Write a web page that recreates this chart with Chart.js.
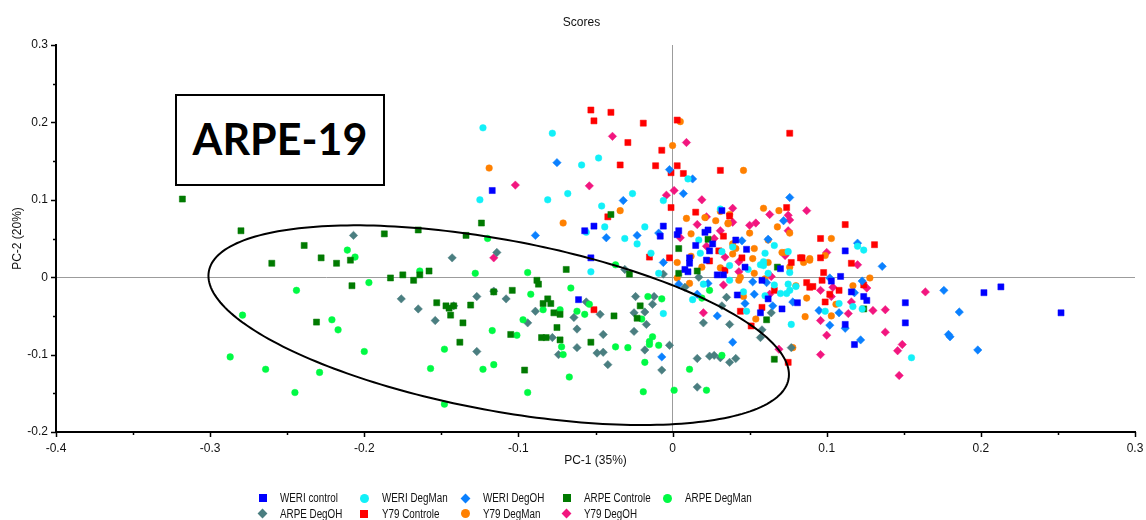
<!DOCTYPE html>
<html>
<head>
<meta charset="utf-8">
<script src="https://cdn.jsdelivr.net/npm/chart.js@4.4.1/dist/chart.umd.min.js"></script>
<style>
html,body{margin:0;padding:0;background:#fff;}
#wrap{position:relative;width:1146px;height:520px;overflow:hidden;background:#fff;}
#chart{position:absolute;left:0;top:0;}
#title{position:absolute;left:481.5px;top:14px;width:200px;text-align:center;font-family:"Liberation Sans",Arial,sans-serif;font-size:12px;line-height:16px;color:#111;}
#tag{position:absolute;left:175px;top:94px;width:210px;height:92px;box-sizing:border-box;border:2px solid #000;background:#fff;
  font-family:Lato,"Open Sans",sans-serif;font-weight:700;font-size:43px;color:#000;display:flex;align-items:center;justify-content:center;padding-bottom:3px;}
#legend{position:absolute;left:0;top:0;width:1146px;height:520px;pointer-events:none;font-family:"Liberation Sans",Arial,sans-serif;font-size:12px;color:#111;}
.mk{position:absolute;box-sizing:border-box;}
.tx{position:absolute;white-space:nowrap;transform:scaleX(0.82);transform-origin:left center;line-height:16px;height:16px;}
</style>
</head>
<body>
<div id="wrap">
  <canvas id="chart" width="1146" height="520"></canvas>
  <div id="title">Scores</div>
  <div id="tag">ARPE-19</div>
  <div id="legend"></div>
</div>
<script>
// ---------- DATA (PC-1, PC-2 scores) ----------
const xTickLabels = ['-0.4','-0.3','-0.2','-0.1','0','0.1','0.2','0.3'];
const yTickLabels = ['-0.2','-0.1','0','0.1','0.2','0.3'];

const weriControl = [[0.252,-0.046],[0.213,-0.0125],[0.202,-0.020],[0.151,-0.033],[0.151,-0.059],[-0.117,0.112],[-0.057,0.060],[-0.051,0.066],[-0.053,0.025],[-0.006,0.066],[-0.008,0.053],[0.003,0.055],[-0.061,-0.029],[0.004,0.060],[0.021,0.058],[0.023,0.061],[0.032,0.086],[0.015,0.041],[0.026,0.043],[0.041,0.048],[0.048,0.036],[0.112,0.034],[0.024,0.034],[0.011,0.025],[0.011,0.018],[0.022,0.022],[0.008,0.010],[0.010,0.007],[0.029,0.003],[0.033,0.003],[0.042,-0.023],[0.047,0.013],[0.058,-0.004],[0.070,0.011],[0.062,-0.028],[0.057,-0.046],[0.071,-0.041],[0.081,-0.033],[0.103,-0.005],[0.109,0.001],[0.116,-0.019],[0.124,-0.025],[0.126,-0.030],[0.112,-0.061],[0.118,-0.087]];

const weriDegMan = [[-0.123,0.193],[-0.078,0.186],[-0.059,0.145],[-0.048,0.154],[-0.125,0.100],[-0.081,0.100],[-0.068,0.108],[-0.046,0.092],[-0.026,0.108],[-0.006,0.099],[-0.044,0.065],[-0.056,0.058],[-0.031,0.050],[-0.023,0.043],[-0.018,0.065],[-0.014,0.031],[-0.053,0.007],[-0.009,0.005],[0.010,0.127],[0.031,0.088],[0.017,0.048],[0.066,0.041],[0.120,0.040],[0.124,0.035],[0.018,0.031],[0.039,0.039],[0.060,0.031],[0.075,0.033],[0.057,0.016],[0.049,0.010],[0.037,-0.004],[0.020,-0.009],[0.060,-0.024],[0.046,-0.019],[0.075,-0.009],[0.074,-0.021],[0.066,-0.010],[0.032,0.033],[0.037,0.015],[0.059,0.020],[0.059,0.015],[0.062,0.005],[0.076,0.006],[0.076,-0.017],[0.070,-0.021],[0.048,-0.044],[0.077,-0.061],[0.013,-0.029],[-0.006,-0.047],[0.117,-0.038],[0.108,-0.034],[0.099,-0.044],[0.123,-0.041],[0.080,-0.012],[0.155,-0.104]];

const weriDegOH = [[-0.075,0.148],[-0.032,0.099],[-0.089,0.054],[-0.043,0.051],[-0.023,0.054],[-0.009,0.057],[-0.006,0.019],[-0.002,0.139],[0.004,-0.009],[0.013,0.127],[0.007,0.108],[0.076,0.103],[0.072,0.073],[0.045,0.047],[0.062,0.049],[0.120,0.044],[0.023,-0.008],[0.052,-0.006],[0.061,-0.007],[0.016,-0.022],[0.053,-0.022],[0.047,-0.034],[0.065,-0.037],[0.029,-0.050],[0.039,-0.084],[0.078,-0.032],[0.095,-0.043],[0.102,-0.001],[0.108,-0.046],[0.102,-0.062],[0.112,-0.066],[0.118,-0.020],[0.123,-0.005],[0.136,0.014],[0.122,-0.081],[-0.007,-0.103],[0.176,-0.017],[0.186,-0.045],[0.179,-0.074],[0.180,-0.077],[0.198,-0.094]];

const arpeControle = [[-0.318,0.101],[-0.280,0.060],[-0.260,0.018],[-0.239,0.041],[-0.228,0.025],[-0.218,0.018],[-0.209,0.022],[-0.187,0.056],[-0.165,0.061],[-0.208,-0.011],[-0.231,-0.058],[-0.183,-0.001],[-0.175,0.003],[-0.168,-0.004],[-0.164,0.003],[-0.158,0.008],[-0.124,0.070],[-0.134,0.054],[-0.069,0.010],[-0.088,-0.004],[-0.087,-0.009],[-0.104,-0.017],[-0.081,-0.028],[-0.040,0.081],[-0.028,0.004],[0.004,0.037],[0.004,0.005],[-0.153,-0.033],[-0.147,-0.037],[-0.145,-0.040],[-0.142,-0.037],[-0.144,-0.049],[-0.136,-0.059],[-0.131,-0.036],[-0.138,-0.084],[-0.116,-0.019],[-0.084,-0.034],[-0.079,-0.034],[-0.077,-0.046],[-0.073,-0.048],[-0.075,-0.065],[-0.105,-0.074],[-0.085,-0.078],[-0.082,-0.078],[-0.073,-0.081],[-0.053,-0.084],[-0.096,-0.120],[-0.038,-0.050],[-0.021,-0.037],[-0.023,-0.053],[0.061,-0.055],[0.066,-0.106],[0.124,-0.041],[0.023,0.049],[0.016,0.008],[0.068,0.013]];

const arpeDegMan = [[-0.244,-0.017],[-0.279,-0.049],[-0.287,-0.103],[-0.264,-0.119],[-0.245,-0.149],[-0.211,0.035],[-0.206,0.026],[-0.197,-0.007],[-0.164,0.008],[-0.221,-0.055],[-0.217,-0.068],[-0.200,-0.096],[-0.229,-0.123],[-0.157,-0.118],[-0.148,-0.164],[-0.066,-0.014],[-0.092,-0.022],[-0.084,-0.042],[-0.073,-0.042],[-0.062,-0.044],[-0.057,-0.048],[-0.054,-0.035],[-0.097,-0.055],[-0.117,-0.069],[-0.101,-0.075],[-0.148,-0.093],[-0.072,-0.090],[-0.071,-0.100],[-0.123,-0.119],[-0.116,-0.113],[-0.067,-0.129],[-0.094,-0.149],[-0.037,-0.090],[-0.029,-0.091],[-0.016,-0.025],[-0.007,-0.028],[-0.020,-0.054],[-0.013,-0.077],[-0.015,-0.083],[-0.015,-0.087],[-0.009,-0.088],[-0.018,-0.110],[-0.019,-0.148],[0.001,-0.146],[-0.120,0.050],[-0.128,0.005],[-0.094,0.006],[-0.037,0.016],[0.024,-0.017],[0.019,-0.027],[0.032,-0.101],[0.011,-0.119],[0.022,-0.146]];

const arpeDegOH = [[-0.207,0.054],[-0.176,-0.028],[-0.165,-0.041],[-0.143,0.025],[-0.114,0.032],[-0.116,-0.018],[-0.127,-0.025],[-0.108,-0.028],[-0.031,0.010],[-0.024,-0.025],[-0.012,-0.025],[-0.006,0.004],[-0.154,-0.056],[-0.142,-0.037],[-0.127,-0.096],[-0.089,-0.044],[-0.094,-0.059],[-0.078,-0.078],[-0.074,-0.100],[-0.064,-0.052],[-0.062,-0.067],[-0.062,-0.091],[-0.056,-0.032],[-0.047,-0.048],[-0.045,-0.074],[-0.049,-0.098],[-0.045,-0.097],[-0.042,-0.113],[-0.013,-0.035],[-0.025,-0.046],[-0.018,-0.045],[-0.017,-0.061],[-0.025,-0.070],[-0.018,-0.094],[-0.002,-0.088],[-0.007,-0.120],[0.008,-0.013],[0.035,-0.026],[0.032,-0.037],[0.020,-0.059],[0.037,-0.061],[0.064,-0.046],[0.058,-0.068],[0.057,-0.078],[0.077,-0.091],[0.016,-0.105],[0.024,-0.102],[0.027,-0.101],[0.031,-0.104],[0.037,-0.110],[0.041,-0.105],[0.016,-0.142],[0.017,0.000]];

const y79Controle = [[-0.053,0.216],[-0.040,0.213],[-0.051,0.202],[-0.019,0.199],[-0.029,0.174],[-0.007,0.164],[-0.034,0.145],[-0.011,0.144],[-0.001,0.135],[-0.001,0.090],[-0.042,0.078],[-0.015,0.026],[-0.002,0.025],[0.003,0.203],[0.003,0.144],[0.076,0.186],[0.007,0.134],[0.031,0.138],[0.015,0.084],[0.074,0.090],[0.037,0.079],[0.033,0.053],[0.096,0.050],[0.112,0.068],[0.030,0.034],[0.024,0.021],[0.045,0.025],[0.034,0.009],[0.066,-0.017],[0.084,0.025],[0.083,0.025],[0.077,0.019],[0.096,0.025],[0.116,0.018],[0.098,0.006],[0.097,-0.004],[0.087,-0.007],[0.091,-0.012],[0.089,-0.013],[0.108,-0.017],[0.102,-0.022],[0.124,-0.010],[0.044,-0.044],[0.051,-0.063],[0.099,-0.032],[0.131,0.042],[0.075,-0.110],[0.058,-0.039],[-0.051,-0.042]];

const y79DegMan = [[-0.119,0.141],[-0.071,0.070],[-0.034,0.086],[0.000,0.170],[0.005,0.201],[0.003,0.019],[0.003,-0.001],[0.046,0.138],[0.059,0.089],[0.069,0.086],[0.009,0.076],[0.028,0.073],[0.037,0.081],[0.021,0.077],[0.031,0.085],[0.036,0.070],[0.068,0.065],[0.012,0.056],[0.050,0.057],[0.062,0.048],[0.039,0.043],[0.103,0.050],[0.076,0.057],[0.053,0.037],[0.041,0.037],[0.039,0.030],[0.052,0.024],[0.019,0.013],[0.031,0.012],[0.043,-0.004],[0.071,0.032],[0.036,0.069],[0.012,0.027],[0.053,0.005],[0.044,0.000],[0.011,-0.008],[0.046,-0.025],[0.080,-0.011],[0.087,-0.027],[0.086,-0.051],[0.078,-0.091],[0.054,-0.054],[0.060,-0.002],[0.073,0.032],[0.089,0.024],[0.089,0.022],[0.085,0.019],[0.076,0.013],[0.103,-0.050],[0.106,-0.035],[0.117,-0.011],[0.128,-0.001],[0.062,0.019],[0.099,0.028]];

const y79DegOH = [[-0.039,0.182],[-0.102,0.119],[-0.054,0.118],[-0.116,0.025],[0.001,0.112],[-0.004,0.106],[0.005,0.051],[0.009,0.174],[0.019,0.100],[0.039,0.089],[0.022,0.078],[0.016,0.068],[0.039,0.071],[0.031,0.060],[0.050,0.067],[0.054,0.070],[0.063,0.081],[0.075,0.080],[0.076,0.074],[0.075,0.060],[0.087,0.086],[0.027,0.050],[0.022,0.040],[0.034,0.026],[0.043,0.020],[0.043,0.007],[0.064,0.001],[0.033,-0.010],[0.063,-0.022],[0.100,0.032],[0.073,0.028],[0.120,0.016],[0.096,-0.017],[0.104,-0.013],[0.103,-0.025],[0.126,-0.014],[0.020,-0.046],[0.069,-0.093],[0.096,-0.056],[0.100,-0.075],[0.096,-0.100],[0.116,-0.032],[0.114,-0.047],[0.130,-0.043],[0.138,-0.042],[0.138,-0.071],[0.146,-0.095],[0.149,-0.087],[0.147,-0.127],[0.164,-0.019]];

// confidence ellipse (centre and conjugate semi-diameters, in score units)
const ellipseCenter = [-0.1128, -0.062];
const ellipseAxisA = [0.1883, -0.0638];
const ellipseAxisB = [0.0, 0.1121];

// ---------- SERIES STYLE ----------
const seriesDefs = [
  {label:'WERI control',  data:weriControl,  color:'#0000FF', shape:'rect'},
  {label:'WERI DegMan',   data:weriDegMan,   color:'#12F0F8', shape:'circle'},
  {label:'WERI DegOH',    data:weriDegOH,    color:'#0A80FF', shape:'rectRot'},
  {label:'ARPE Controle', data:arpeControle, color:'#007A00', shape:'rect'},
  {label:'ARPE DegMan',   data:arpeDegMan,   color:'#00FA44', shape:'circle'},
  {label:'ARPE DegOH',    data:arpeDegOH,    color:'#4A7E80', shape:'rectRot'},
  {label:'Y79 Controle',  data:y79Controle,  color:'#FF0000', shape:'rect'},
  {label:'Y79 DegMan',    data:y79DegMan,    color:'#FF8000', shape:'circle'},
  {label:'Y79 DegOH',     data:y79DegOH,     color:'#F2167F', shape:'rectRot'}
];
const radiusFor = {rect:4.3, circle:3.3, rectRot:4.2};

const datasets = seriesDefs.map(s => ({
  label: s.label,
  data: s.data.map(p => ({x:p[0], y:p[1]})),
  pointStyle: s.shape,
  pointRadius: radiusFor[s.shape],
  pointHoverRadius: radiusFor[s.shape],
  backgroundColor: s.color,
  borderColor: s.color,
  borderWidth: 0.5
}));

function labelFor(labels, min, value) {
  const i = Math.round((value - min) / 0.1);
  if (Math.abs(value - (min + i * 0.1)) < 1e-6 && labels[i] !== undefined) return labels[i];
  return '';
}

const tickMarks = {
  id: 'tickMarks',
  afterDraw(chart) {
    const ctx = chart.ctx;
    ctx.save();
    ctx.strokeStyle = '#000';
    ctx.lineWidth = 1.5;
    const xs = chart.scales.x, ys = chart.scales.y;
    xs.ticks.forEach(t => {
      const major = labelFor(xTickLabels, -0.4, t.value) !== '';
      const px = Math.round(xs.getPixelForValue(t.value)) + 0.5;
      ctx.beginPath();
      ctx.moveTo(px, xs.top);
      ctx.lineTo(px, xs.top + (major ? 5 : 3));
      ctx.stroke();
    });
    ys.ticks.forEach(t => {
      const major = labelFor(yTickLabels, -0.2, t.value) !== '';
      const py = Math.round(ys.getPixelForValue(t.value)) + 0.5;
      ctx.beginPath();
      ctx.moveTo(ys.right, py);
      ctx.lineTo(ys.right - (major ? 5 : 3), py);
      ctx.stroke();
    });
    ctx.restore();
  }
};

const ellipsePlugin = {
  id: 'ellipse',
  afterDatasetsDraw(chart) {
    const ctx = chart.ctx, xs = chart.scales.x, ys = chart.scales.y;
    ctx.save();
    ctx.strokeStyle = '#000';
    ctx.lineWidth = 2;
    ctx.beginPath();
    const n = 240;
    for (let k = 0; k <= n; k++) {
      const t = (k / n) * Math.PI * 2;
      const vx = ellipseCenter[0] + ellipseAxisA[0] * Math.cos(t) + ellipseAxisB[0] * Math.sin(t);
      const vy = ellipseCenter[1] + ellipseAxisA[1] * Math.cos(t) + ellipseAxisB[1] * Math.sin(t);
      const px = xs.getPixelForValue(vx), py = ys.getPixelForValue(vy);
      if (k === 0) ctx.moveTo(px, py); else ctx.lineTo(px, py);
    }
    ctx.closePath();
    ctx.stroke();
    ctx.restore();
  }
};

const fontFam = '"Liberation Sans", Arial, sans-serif';
const zeroGrid = c => (c.tick && Math.abs(c.tick.value) < 1e-9) ? '#9c9c9c' : 'rgba(0,0,0,0)';

new Chart(document.getElementById('chart'), {
  type: 'scatter',
  data: { datasets },
  options: {
    responsive: false,
    animation: false,
    devicePixelRatio: 1,
    layout: { padding: { left: 0, right: 11, top: 45, bottom: 52 } },
    plugins: {
      legend: { display: false },
      tooltip: { enabled: false },
      title: { display: false }
    },
    scales: {
      x: {
        type: 'linear', min: -0.4, max: 0.3,
        afterFit: s => { s.height = 36; s.paddingLeft = 0; s.paddingRight = 0; },
        ticks: { stepSize: 0.05, autoSkip: false, maxRotation: 0, padding: 9, color: '#111',
          font: { family: fontFam, size: 12 },
          callback: v => labelFor(xTickLabels, -0.4, v) },
        grid: { drawTicks: false, color: zeroGrid, lineWidth: 1 },
        border: { display: true, color: '#000', width: 2 },
        title: { display: true, text: 'PC-1 (35%)', color: '#111',
          font: { family: fontFam, size: 12 }, padding: { top: 2, bottom: 0 } }
      },
      y: {
        type: 'linear', min: -0.2, max: 0.3,
        afterFit: s => { s.width = 56; s.paddingTop = 0; s.paddingBottom = 0; },
        ticks: { stepSize: 0.05, autoSkip: false, padding: 8, color: '#111',
          font: { family: fontFam, size: 12 },
          callback: v => labelFor(yTickLabels, -0.2, v) },
        grid: { drawTicks: false, color: zeroGrid, lineWidth: 1 },
        border: { display: true, color: '#000', width: 2 },
        title: { display: true, text: 'PC-2 (20%)', color: '#111',
          font: { family: fontFam, size: 12 }, padding: { top: 10, bottom: 0 } }
      }
    }
  },
  plugins: [tickMarks, ellipsePlugin]
});

// ---------- legend (HTML, fixed columns) ----------
const legendEl = document.getElementById('legend');
seriesDefs.forEach((s, i) => {
  const row = Math.floor(i / 5), col = i % 5;
  const cx = 262.7 + col * 101.3, cy = 498 + row * 15.7;
  const mk = document.createElement('div');
  mk.className = 'mk';
  if (s.shape === 'rect') {
    Object.assign(mk.style, {left:(cx-4)+'px', top:(cy-4)+'px', width:'8px', height:'8px', background:s.color});
  } else if (s.shape === 'circle') {
    Object.assign(mk.style, {left:(cx-4.5)+'px', top:(cy-4.5)+'px', width:'9px', height:'9px', background:s.color, borderRadius:'50%'});
  } else {
    Object.assign(mk.style, {left:(cx-3.5)+'px', top:(cy-3.5)+'px', width:'7px', height:'7px', background:s.color, transform:'rotate(45deg)'});
  }
  legendEl.appendChild(mk);
  const tx = document.createElement('div');
  tx.className = 'tx';
  tx.textContent = s.label;
  tx.style.left = (cx + 17.5) + 'px';
  tx.style.top = (cy - 8) + 'px';
  legendEl.appendChild(tx);
});
</script>
</body>
</html>
